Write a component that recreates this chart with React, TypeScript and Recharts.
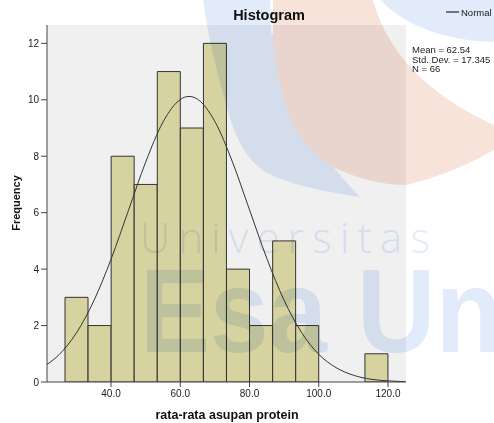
import React from 'react'
import { ComposedChart, Bar, Line, XAxis, YAxis, CartesianGrid } from 'recharts'

// histogram bins (width 6.67) and their counts
const binLabels = [
  '26.7-33.3', '33.3-40.0', '40.0-46.7', '46.7-53.3', '53.3-60.0', '60.0-66.7', '66.7-73.3',
  '73.3-80.0', '80.0-86.7', '86.7-93.3', '93.3-100.0', '100.0-106.7', '106.7-113.3', '113.3-120.0',
]
const binCounts = [3, 2, 8, 7, 11, 9, 12, 4, 2, 5, 2, 0, 0, 1]

// normal curve
const curveX = [21.5, 25, 30, 35, 40, 45, 50, 55, 60, 62.5, 65, 70, 75, 80, 85, 90, 95, 100, 105, 110, 115, 120, 125]
const curveY = [0.62, 0.97, 1.74, 2.87, 4.35, 6.07, 7.79, 9.21, 10.01, 10.12, 10.02, 9.23, 7.82, 6.1, 4.38, 2.89, 1.76, 0.98, 0.51, 0.24, 0.1, 0.04, 0.015]

const xTicks = [40, 60, 80, 100, 120]
const yTicks = [0, 2, 4, 6, 8, 10, 12]
const statLines = ['Mean = 62.54', 'Std. Dev. = 17.345', 'N = 66']

const bins = binLabels.map((bin, i) => ({ bin, count: binCounts[i] }))
const curve = curveX.map((x, i) => ({ x, y: curveY[i] }))

const FONT = '"Liberation Sans", Arial, sans-serif'
const tickStyle = { fill: '#222', fontSize: 10, fontFamily: FONT }
const WM_BLUE = '#e2ebfa'
const WM_ORANGE = '#f8e3db'

// faint university logo watermark laid over the whole picture
function Watermark() {
  return (
    <svg
      width={494}
      height={423}
      style={{ position: 'absolute', left: 0, top: 0, mixBlendMode: 'multiply', pointerEvents: 'none' }}
    >
      <path
        d="M203,0 L270,0 L271,33 L287,43 C292,100 305,140 360,197 C330,192 300,188 267,173 C245,160 233,133 225,100 Q210,50 203,0 Z"
        fill={WM_BLUE}
      />
      <path d="M380,0 L494,0 L494,42 Q420,40 380,0 Z" fill={WM_BLUE} />
      <path
        d="M273,0 L373,0 Q385,45 423,80 Q455,108 494,125 L494,150 Q450,175 407,185 Q370,185 333,167 Q300,145 287,110 Q278,80 273,43 Z"
        fill={WM_ORANGE}
      />
      <text x={140} y={253} fontSize={42} fontFamily='"Open Sans", sans-serif' fontWeight={300} textLength={290} lengthAdjust="spacing" fill={WM_BLUE}>
        Universitas
      </text>
      <text x={140} y={352} fontSize={118} fontFamily={FONT} fontWeight="bold" textLength={187} lengthAdjust="spacingAndGlyphs" fill={WM_BLUE}>
        Esa
      </text>
      <text x={357} y={352} fontSize={118} fontFamily={FONT} fontWeight="bold" textLength={145} lengthAdjust="spacingAndGlyphs" fill={WM_BLUE}>
        Un
      </text>
    </svg>
  )
}

function Labels() {
  return (
    <svg width={494} height={423} style={{ position: 'absolute', left: 0, top: 0, pointerEvents: 'none' }}>
      <text x={269} y={20} textAnchor="middle" fontSize={14.5} fontWeight="bold" fontFamily={FONT} fill="#111">
        Histogram
      </text>
      <line x1={446} x2={459} y1={12} y2={12} stroke="#555" strokeWidth={1.5} />
      <text x={461} y={15.5} fontSize={9.5} fontFamily={FONT} fill="#222">Normal</text>
      {statLines.map((s, i) => (
        <text key={s} x={412} y={53 + i * 9.7} fontSize={9.5} fontFamily={FONT} fill="#222">{s}</text>
      ))}
      <text
        x={20}
        y={203}
        transform="rotate(-90 20 203)"
        textAnchor="middle"
        fontSize={11}
        fontWeight="bold"
        fontFamily={FONT}
        fill="#111"
      >
        Frequency
      </text>
      <text x={227} y={419} textAnchor="middle" fontSize={12.5} fontWeight="bold" fontFamily={FONT} fill="#111">
        rata-rata asupan protein
      </text>
    </svg>
  )
}

export default function App() {
  return (
    <div style={{ position: 'absolute', left: 0, top: 0, width: 494, height: 423, background: '#fff' }}>
      <ComposedChart
        width={494}
        height={423}
        data={bins}
        barCategoryGap={0}
        margin={{ top: 25, right: 88, bottom: 11, left: 0 }}
      >
        <CartesianGrid xAxisId="val" fill="#f0f0f0" stroke="none" horizontal={false} vertical={false} />
        <XAxis xAxisId="bin" dataKey="bin" type="category" hide height={0} padding={{ left: 18, right: 18 }} />
        <XAxis
          xAxisId="val"
          type="number"
          dataKey="x"
          domain={[21.5, 125.2]}
          ticks={xTicks}
          allowDataOverflow
          tickFormatter={(v: number) => v.toFixed(1)}
          height={30}
          tickSize={5}
          tickMargin={3}
          stroke="#444"
          tick={tickStyle}
        />
        <XAxis xAxisId="top" orientation="top" type="number" domain={[0, 1]} tick={false} tickLine={false} height={0} stroke="#444" />
        <YAxis
          type="number"
          domain={[0, 12.65]}
          ticks={yTicks}
          allowDataOverflow
          width={47}
          tickSize={6}
          tickMargin={2}
          stroke="#444"
          tick={tickStyle}
        />
        <YAxis yAxisId="right" orientation="right" type="number" domain={[0, 1]} tick={false} tickLine={false} width={0} stroke="#444" />
        <Bar xAxisId="bin" dataKey="count" fill="#d6d3a0" stroke="#333" strokeWidth={1} isAnimationActive={false} />
        <Line
          xAxisId="val"
          data={curve}
          dataKey="y"
          type="monotone"
          stroke="#333"
          strokeWidth={1}
          dot={false}
          isAnimationActive={false}
        />
      </ComposedChart>
      <Labels />
      <Watermark />
    </div>
  )
}
